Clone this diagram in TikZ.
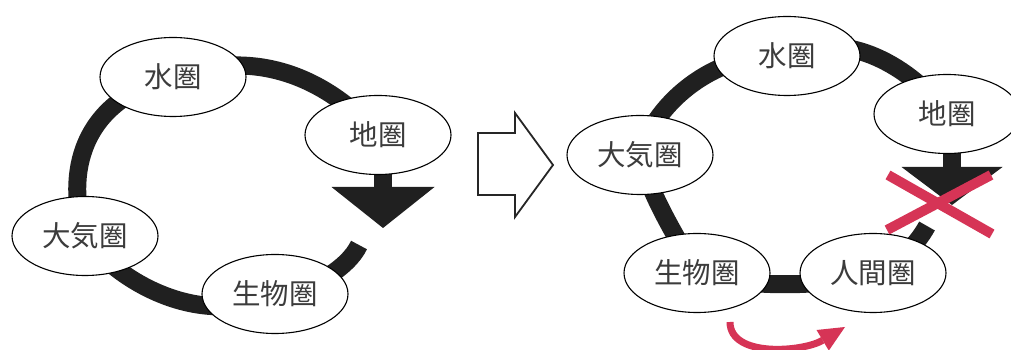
\documentclass[tikz,border=0pt]{standalone}
\usepackage{fontspec}
\newfontfamily\jpfont{Noto Sans CJK JP}
\usetikzlibrary{shapes.geometric,arrows.meta,backgrounds}
\definecolor{ringc}{RGB}{32,32,32}
\definecolor{redc}{RGB}{214,52,86}
\definecolor{txtc}{RGB}{60,60,60}
\tikzset{
  sphere/.style={ellipse,draw=black,line width=1.1pt,fill=white,minimum width=146pt,minimum height=79pt,inner sep=0pt,text=txtc,font=\jpfont\fontsize{28.5pt}{28.5pt}\selectfont},
  ring/.style={draw=ringc,line width=18pt},
  cross/.style={draw=redc,line width=10pt},
  redarc/.style={draw=redc,line width=7pt,-{Triangle[width=24pt,length=26pt,line width=0pt]}},
  hollow/.style={draw=black!85,line width=1.8pt,line join=miter}
}
\begin{document}
\begin{tikzpicture}[x=1pt,y=1pt]
\useasboundingbox (0,0) rectangle (1011,350);
% left cycle
\node[sphere] (shuiL) at (173,273) {水圏};
\node[sphere] (diL) at (378,215) {地圏};
\node[sphere] (taikiL) at (85,114) {大気圏};
\node[sphere] (seibutsuL) at (275,56) {生物圏};
\coordinate (stubL) at (359,105);
\coordinate (tipL) at (383,122);
% right cycle
\node[sphere] (shuiR) at (787,294) {水圏};
\node[sphere] (diR) at (947,236) {地圏};
\node[sphere] (taikiR) at (640,195) {大気圏};
\node[sphere] (seibutsuR) at (697,77) {生物圏};
\node[sphere] (ningenR) at (873,77) {人間圏};
\coordinate (stubR) at (927,124);
\coordinate (tipR) at (952,145);
\begin{pgfonlayer}{background}
\fill[white] (0,0) rectangle (1011,350);
% left ring
\draw[ring] (shuiL.center) .. controls (251,301) and (322.5,276.7) .. (diL.center);
\draw[ring] (shuiL.center) .. controls (80,250) and (65,175) .. (taikiL.center);
\draw[ring] (taikiL.center) .. controls (115,70) and (200,20) .. (seibutsuL.center);
\draw[ring] (seibutsuL.center) .. controls (310,58) and (348.5,82.3) .. (stubL);
\draw[ring,-{Triangle[width=103pt,length=41pt,line width=0pt]}] (tipL |- diL.center) -- (tipL);
% right ring
\draw[ring] (shuiR.center) .. controls (840,320) and (905,290) .. (diR.center);
\draw[ring] (shuiR.center) .. controls (720,300) and (655,250) .. (taikiR.center);
\draw[ring] (taikiR.center) .. controls (650,155) and (675,115) .. (seibutsuR.center);
\draw[ring] (seibutsuR.center) .. controls (740,62) and (830,62) .. (ningenR.center);
\draw[ring] (ningenR.center) .. controls (895,82) and (917.6,106.4) .. (stubR);
\draw[ring,-{Triangle[width=101pt,length=38pt,line width=0pt]}] (tipR |- diR.center) -- (tipR);
\end{pgfonlayer}
% hollow arrow in the middle
\draw[hollow] (478,217) -- (515,217) -- (515,237) -- (553,185) -- (515,133) -- (515,155) -- (478,155) -- cycle;
% red cross
\draw[cross] (888,175) -- (992,116);
\draw[cross] (887,120) -- (991,175);
% red curved arrow
\coordinate (arcS) at (730,28);
\coordinate (arcE) at (845,23);
\draw[redarc] (arcS) .. controls (730,-8) and (803,-2) .. (arcE);
\end{tikzpicture}
\end{document}
